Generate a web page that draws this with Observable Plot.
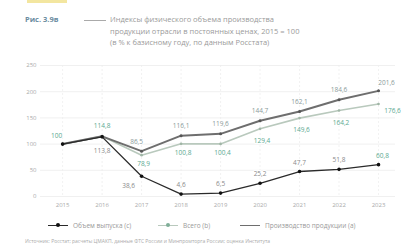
<!DOCTYPE html>
<html><head><meta charset="utf-8">
<script src="https://cdn.jsdelivr.net/npm/d3@7"></script>
<script src="https://cdn.jsdelivr.net/npm/@observablehq/plot@0.6"></script>
<style>
body{margin:0;background:#fff;font-family:"Open Sans",sans-serif;width:411px;height:250px;overflow:hidden;position:relative}
#bar{position:absolute;left:27px;top:0;width:40px;height:3px;background:#f3e6a0}
#fig{position:absolute;left:25px;top:14px;font-weight:bold;color:#6a8ca0;font-size:7.5px}
#dash{position:absolute;left:84px;top:20px;width:22px;height:1px;background:#aaa}
#ttext{position:absolute;left:110px;top:14px;width:260px;font-size:7.5px;color:#9a9a9a;line-height:11.5px}
#chart{position:absolute;left:0;top:52px}
#legend{position:absolute;top:221px;left:0;width:411px;font-size:6.5px;color:#999}
.li{position:absolute;display:flex;align-items:center;gap:5px;white-space:nowrap}
.sw{width:20px;height:1.5px;position:relative}
.sw i{position:absolute;left:8px;top:-1.5px;width:4px;height:4px;border-radius:2px}
#src{position:absolute;left:25px;top:238px;font-size:5px;color:#aaa;white-space:nowrap}
</style></head>
<body>
<div id="bar"></div>
<div id="fig">Рис. 3.9в</div>
<div id="dash"></div>
<div id="ttext">Индексы физического объема производства<br>продукции отрасли в постоянных ценах, 2015 = 100<br>(в % к базисному году, по данным Росстата)</div>
<div id="chart"></div>
<div id="legend"></div>
<div id="src">Источник: Росстат; расчеты ЦМАКП, данные ФТС России и Минпромторга России; оценка Института</div>
<script>
const years = [2015, 2016, 2017, 2018, 2019, 2020, 2021, 2022, 2023];
const seriesNames = ["Объем выпуска (с)", "Всего (b)", "Производство продукции (a)"];
const valuesA = [100, 114.8, 86.5, 116.1, 119.6, 144.7, 162.1, 184.6, 201.6];
const valuesB = [100, 114.8, 78.9, 100.8, 100.4, 129.4, 149.6, 164.2, 176.6];
const valuesC = [100, 113.8, 38.6, 4.6, 6.5, 25.2, 47.7, 51.8, 60.8];
const yTicks = [0, 50, 100, 150, 200, 250];

const fmt = v => Number.isInteger(v) ? String(v) : v.toFixed(1).replace(".", ",");
const A = years.map((x, i) => ({x, y: valuesA[i], i}));
const B = years.map((x, i) => ({x, y: valuesB[i], i}));
const C = years.map((x, i) => ({x, y: valuesC[i], i}));

const colA = "#6e6e6e", colB = "#b9c9bd", colC = "#2a2a2a";
const labA = "#8a9a9a", labB = "#5aa890", labC = "#8a8a8a";

const lab = (data, idx, dx, dy, fill) => Plot.text(data.filter(d => idx.includes(d.i)), {
  x: "x", y: "y", text: d => fmt(d.y), dx, dy, fill, fontSize: 6.5,
  stroke: "white", strokeWidth: 2, paintOrder: "stroke"
});

const chart = Plot.plot({
  width: 411, height: 160,
  marginLeft: 40, marginRight: 16, marginTop: 13, marginBottom: 16,
  style: {background: "transparent", fontFamily: "Open Sans, sans-serif"},
  x: {domain: [2014.44, 2023.43], ticks: years, tickFormat: d => String(d), tickSize: 0, tickPadding: 6, label: null},
  y: {domain: [0, 250], ticks: yTicks, tickSize: 0, tickPadding: 4, label: null},
  marks: [
    Plot.ruleY(yTicks, {stroke: "#ececec", strokeWidth: 0.8}),
    Plot.ruleX(years, {stroke: "#ededed", strokeWidth: 0.8, strokeDasharray: "2,2"}),
    Plot.line(B, {x: "x", y: "y", stroke: colB, strokeWidth: 1.6}),
    Plot.line(A, {x: "x", y: "y", stroke: colA, strokeWidth: 2}),
    Plot.line(C, {x: "x", y: "y", stroke: colC, strokeWidth: 1.3}),
    Plot.dot(B, {x: "x", y: "y", r: 1.3, fill: "#9fb5a5"}),
    Plot.dot(A, {x: "x", y: "y", r: 1.5, fill: "#555"}),
    Plot.dot(C, {x: "x", y: "y", r: 1.8, fill: "#111"}),
    lab(A, [0], -6, -8, labB),
    lab(A, [1], 0, -10, labB),
    lab(A, [2], -5, -9, labA),
    lab(A, [3, 4, 5, 6, 7], 0, -10, labA),
    lab(A, [8], 8, -8, labA),
    lab(B, [2, 3, 4], 2, 9, labB),
    lab(B, [5, 6, 7], 2, 12, labB),
    lab(B, [8], 14, 7, labB),
    lab(C, [1], 0, 14, labC),
    lab(C, [2], -13, 10, labC),
    lab(C, [3, 4, 5, 6, 7], 0, -9, labC),
    lab(C, [8], 4, -9, labB)
  ]
});
chart.querySelectorAll("g[aria-label='x-axis tick label'], g[aria-label='y-axis tick label']").forEach(g => {g.setAttribute("font-size", "6"); g.setAttribute("fill", "#aaa");});
document.getElementById("chart").appendChild(chart);

const leg = document.getElementById("legend");
const items = [
  {name: seriesNames[0], c: colC, dot: "#111", left: 48},
  {name: seriesNames[1], c: colB, dot: "#7fae98", left: 158},
  {name: seriesNames[2], c: colA, dot: null, left: 240}
];
items.forEach(it => {
  const el = document.createElement("div");
  el.className = "li"; el.style.left = it.left + "px";
  el.innerHTML = `<span class="sw" style="background:${it.c}">${it.dot ? `<i style="background:${it.dot}"></i>` : ""}</span><span>${it.name}</span>`;
  leg.appendChild(el);
});
</script>
</body></html>
